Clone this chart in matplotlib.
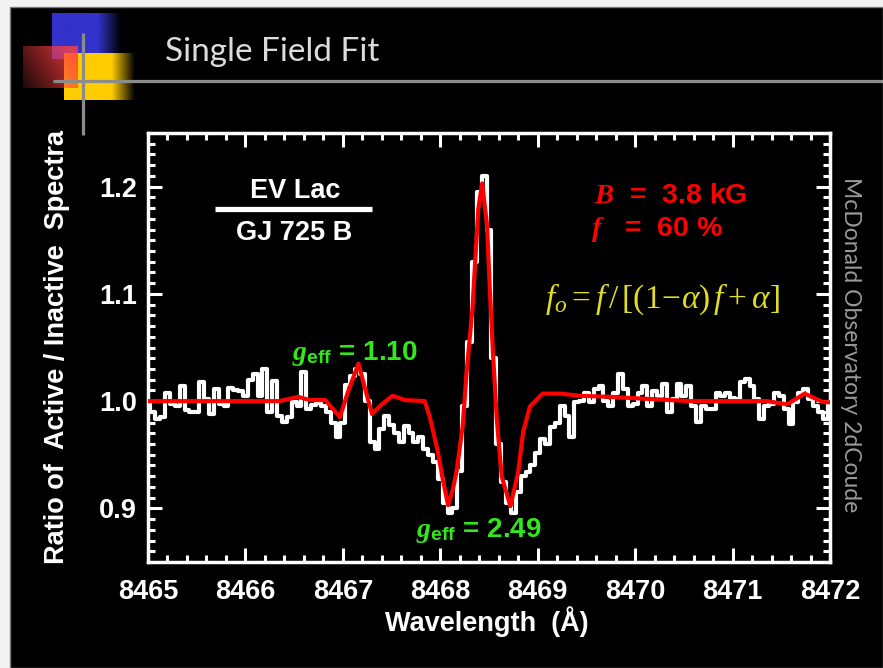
import numpy as np
import matplotlib
matplotlib.use('Agg')
import matplotlib.pyplot as plt
from matplotlib.patches import Rectangle
from matplotlib.ticker import MultipleLocator

plt.rcParams['mathtext.fontset'] = 'custom'
plt.rcParams['mathtext.rm'] = 'Liberation Serif'
plt.rcParams['mathtext.it'] = 'Liberation Serif:italic'
plt.rcParams['mathtext.bf'] = 'Liberation Serif:bold'
plt.rcParams['mathtext.bfit'] = 'Liberation Serif:italic:bold'
plt.rcParams['mathtext.sf'] = 'Liberation Sans:bold'

# ---------------- data ----------------
title = "Single Field Fit"
x_label = "Wavelength  (Å)"
y_label = "Ratio of  Active / Inactive  Spectra"
side_label = "McDonald Observatory 2dCoude"

x_ticks = [8465, 8466, 8467, 8468, 8469, 8470, 8471, 8472]
x_tick_labels = ["8465", "8466", "8467", "8468", "8469", "8470", "8471", "8472"]
y_ticks = [0.9, 1.0, 1.1, 1.2]
y_tick_labels = ["0.9", "1.0", "1.1", "1.2"]

# observed ratio spectrum, sampled every 0.05 A from 8465.00 to 8472.00
obs_start, obs_step = 8465.0, 0.05
obs_ratio = [
    0.997, 0.990, 0.983, 0.985, 1.008, 0.997, 0.995, 1.014, 0.992, 0.990,
    0.990, 1.018, 1.002, 0.988, 1.011, 0.997, 0.995, 1.012, 1.010, 1.009,
    1.005, 1.020, 1.025, 1.005, 1.030, 0.990, 1.019, 0.986, 0.981, 0.985,
    0.999, 0.995, 1.027, 0.993, 0.996, 0.998, 0.995, 0.990, 0.980, 0.967,
    0.980, 1.015, 1.023, 1.030, 1.025, 1.000, 0.962, 0.955, 0.974, 0.986,
    0.978, 0.970, 0.962, 0.977, 0.970, 0.962, 0.967, 0.955, 0.950, 0.943,
    0.927, 0.905, 0.896, 0.900, 0.935, 0.995, 1.055, 1.130, 1.195, 1.210,
    1.160, 1.040, 0.960, 0.925, 0.905, 0.896, 0.915, 0.930, 0.934, 0.940,
    0.952, 0.965, 0.960, 0.976, 0.980, 0.995, 0.986, 0.967, 0.999, 1.000,
    1.008, 0.999, 1.011, 1.014, 1.000, 0.995, 1.008, 1.025, 1.011, 0.995,
    0.997, 1.008, 1.014, 0.995, 1.009, 1.005, 1.016, 0.990, 1.002, 1.016,
    1.005, 1.014, 0.995, 0.981, 0.995, 0.993, 0.993, 1.008, 1.005, 1.008,
    1.003, 1.002, 1.018, 1.021, 1.014, 1.002, 0.983, 0.995, 0.997, 1.008,
    1.005, 0.993, 0.979, 0.999, 1.008, 1.011, 1.002, 0.995, 0.990, 0.983,
    0.999,
]
obs_wave = obs_start + obs_step * np.arange(len(obs_ratio))

# single-field model fit
fit_wave = [8465.00, 8465.53, 8466.15, 8466.35, 8466.54, 8466.66, 8466.82, 8466.97,
            8467.05, 8467.16, 8467.23, 8467.30, 8467.40, 8467.51, 8467.64, 8467.84,
            8467.89, 8467.97, 8468.03, 8468.08, 8468.13, 8468.17, 8468.23, 8468.27,
            8468.33, 8468.36, 8468.39, 8468.43, 8468.48, 8468.51, 8468.54, 8468.58,
            8468.63, 8468.72, 8468.80, 8468.85, 8468.92, 8469.05, 8469.23, 8469.43,
            8469.74, 8470.15, 8470.56, 8471.35, 8471.56, 8471.74, 8471.93, 8472.00]
fit_ratio = [1.000, 1.000, 1.000, 1.000, 1.004, 1.001, 1.001, 0.985,
             1.008, 1.035, 1.011, 0.988, 0.997, 1.005, 1.001, 1.000,
             0.986, 0.955, 0.925, 0.903, 0.918, 0.936, 0.977, 1.027,
             1.086, 1.133, 1.179, 1.203, 1.164, 1.102, 1.046, 0.983,
             0.930, 0.902, 0.934, 0.971, 0.995, 1.007, 1.007, 1.005,
             1.004, 1.002, 1.000, 1.000, 0.997, 1.007, 0.999, 0.999]

# ---------------- figure ----------------
W, H = 883, 668
fig = plt.figure(figsize=(W / 100, H / 100), dpi=100, facecolor='#f2f2f2')
bg = fig.add_axes([0, 0, 1, 1])
bg.set_xlim(0, W)
bg.set_ylim(H, 0)
bg.axis('off')
bg.add_patch(Rectangle((10, 7), W - 10, H - 7, facecolor='black',
                       edgecolor='#7a7a7a', lw=1))


def grad_rect(x0, x1, y0, y1, rgb, fade0, fade1, z):
    n = 200
    xs = np.linspace(x0, x1, n)
    a = np.clip((fade1 - xs) / (fade1 - fade0), 0, 1)
    img = np.zeros((2, n, 4))
    img[..., :3] = rgb
    img[..., 3] = a
    bg.imshow(img, extent=[x0, x1, y1, y0], aspect='auto', zorder=z,
              interpolation='bilinear')


grad_rect(52, 121, 13, 59, (0.20, 0.20, 0.80), 98, 121, 2)
grad_rect(64, 135, 53, 100, (1.0, 0.80, 0.0), 112, 135, 3)
# red square with diagonal fade
n = 120
xf = np.linspace(0, 1, n)[None, :]
yf = np.linspace(0, 1, n)[:, None]
red = np.zeros((n, n, 4))
red[..., 0] = 1.0
red[..., 1] = 0.25
red[..., 2] = 0.25
red[..., 3] = np.clip(0.12 + 0.55 * xf + 0.25 * (1 - yf), 0, 0.8)
bg.imshow(red, extent=[23, 78, 88, 46], aspect='auto', zorder=4,
          interpolation='bilinear')
bg.plot([53, W], [80.7, 80.7], color='#8c8c8c', lw=2.3, zorder=5,
        solid_capstyle='butt')
bg.plot([83, 83], [33, 135], color='#8c8c8c', lw=2.3, zorder=5,
        solid_capstyle='butt')
bg.set_xlim(0, W)
bg.set_ylim(H, 0)

bg.text(165, 61, title, fontsize=24, family='Lato', color='#dcdcdc',
        ha='left', va='baseline')
bg.text(851, 345, side_label, fontsize=16.5, family='Lato', color='#9a9a9a',
        rotation=-90, ha='center', va='center')
bg.text(57, 347, y_label, fontsize=19.5, family='Liberation Sans',
        weight='bold', color='white', rotation=90, ha='center', va='center')
bg.text(487, 622, x_label, fontsize=19.5, family='Liberation Sans',
        weight='bold', color='white', ha='center', va='center')

ax = fig.add_axes([148 / W, 1 - 562 / H, (830 - 148) / W, (562 - 133) / H])
ax.set_facecolor('black')
ax.plot(obs_wave, obs_ratio, drawstyle='steps-mid', color='white', lw=3.0,
        zorder=3)
ax.plot(fit_wave, fit_ratio, color='#ff0000', lw=3, zorder=4)
ax.set_xlim(8465, 8472)
ax.set_ylim(0.85, 1.25)
ax.set_xticks(x_ticks)
ax.set_xticklabels(x_tick_labels)
ax.set_yticks(y_ticks)
ax.set_yticklabels(y_tick_labels)
ax.xaxis.set_minor_locator(MultipleLocator(0.2))
ax.yaxis.set_minor_locator(MultipleLocator(0.01))
for s in ax.spines.values():
    s.set_color('white')
    s.set_linewidth(2.5)
ax.tick_params(which='both', direction='in', top=True, right=True,
               color='white', width=2.2, labelcolor='white')
ax.tick_params(which='major', length=10)
ax.tick_params(which='minor', length=5)
ax.tick_params(axis='x', pad=12)
ax.tick_params(axis='y', pad=8)
for lab in ax.get_xticklabels() + ax.get_yticklabels():
    lab.set_fontfamily('Liberation Sans')
    lab.set_fontweight('bold')
    lab.set_fontsize(19.5)

T = bg.transData
sans = dict(family='Liberation Sans', weight='bold')
ax.text(295, 198, "EV Lac", transform=T, color='white', fontsize=19.5,
        ha='center', va='baseline', zorder=6, **sans)
ax.plot([215, 372], [209, 209], transform=T, color='white', lw=3.8,
        solid_capstyle='butt', zorder=6, clip_on=False)
ax.text(294, 240, "GJ 725 B", transform=T, color='white', fontsize=19.5,
        ha='center', va='baseline', zorder=6, **sans)

ax.text(594, 203, r"$\mathbfit{B}$  =  3.8 kG", transform=T, color='#ff0000',
        fontsize=20.5, ha='left', va='baseline', zorder=6, **sans)
ax.text(591, 236, r"$\mathbfit{f}$   =  60 %", transform=T, color='#ff0000',
        fontsize=20.5, ha='left', va='baseline', zorder=6, **sans)
ax.text(545, 308, r"$f_o = f\,/\,[(\mathit{1}\!-\!\alpha)\,f + \alpha]$",
        transform=T, color='#e0dc28', fontsize=24, ha='left', va='baseline',
        zorder=6)

green = '#33e81a'
ax.text(292, 360, r"$\mathbfit{g}_{\mathsf{eff}}$ = 1.10", transform=T,
        color=green, fontsize=20, ha='left', va='baseline', zorder=6, **sans)
ax.text(416, 537, r"$\mathbfit{g}_{\mathsf{eff}}$ = 2.49", transform=T,
        color=green, fontsize=20, ha='left', va='baseline', zorder=6, **sans)

fig.savefig('out.png', dpi=100, facecolor=fig.get_facecolor())
